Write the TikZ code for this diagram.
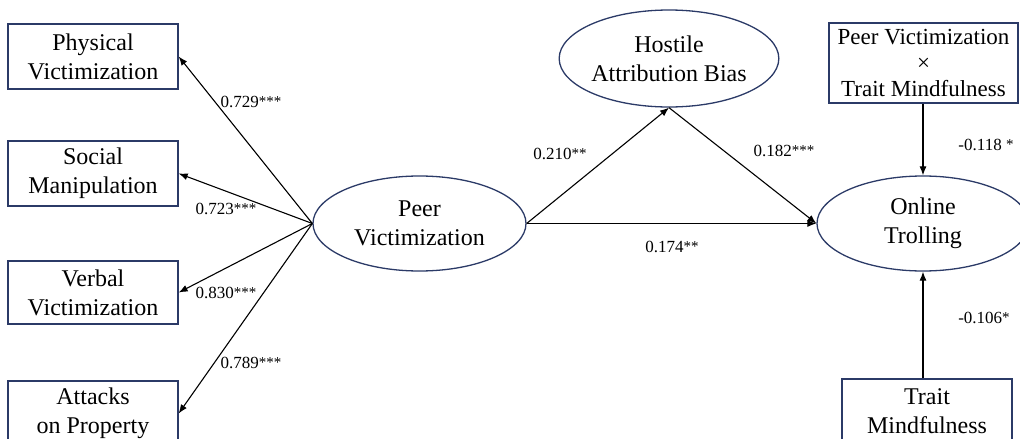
\documentclass[tikz,border=0pt]{standalone}
\usepackage{fontspec}
\setmainfont{Liberation Serif}
\usetikzlibrary{arrows.meta,shapes.geometric}
\definecolor{navy}{HTML}{2B3A67}
\newcommand{\stars}[1]{\raisebox{1pt}{\fontsize{15}{15}\selectfont #1}}
\begin{document}
\begin{tikzpicture}[x=1pt,y=-1pt,
  box/.style={draw=navy,line width=1.3pt,rectangle,inner sep=0pt,align=center,font=\fontsize{24}{29}\selectfont},
  lat/.style={draw=navy,line width=1.3pt,ellipse,inner sep=0pt,align=center,font=\fontsize{24}{29}\selectfont},
  arr/.style={line width=1.1pt,-{Latex[length=9pt,width=7pt]}},
  lbl/.style={font=\fontsize{17}{20}\selectfont,inner sep=0pt}]
\useasboundingbox (0,0) rectangle (1020,439);
\begin{scope}
\clip (0,0) rectangle (1020,439);
% indicator boxes
\node[box,minimum width=170pt,minimum height=65pt] (phys) at (93,56.5) {Physical\\Victimization};
\node[box,minimum width=170pt,minimum height=65pt] (soc) at (93,173.5) {Social\\Manipulation};
\node[box,minimum width=170pt,minimum height=63pt] (verb) at (93,292.5) {Verbal\\Victimization};
\node[box,minimum width=170pt,minimum height=65pt] (att) at (93,413.5) {Attacks\\on Property};
% latent variables
\node[lat,minimum width=213pt,minimum height=95pt] (pv) at (419.5,223.5) {Peer\\Victimization};
\node[lat,minimum width=212pt,minimum height=97pt] (hab) at (669,58.5) {Hostile\\Attribution Bias};
\node[lat,minimum width=212pt,minimum height=95pt] (ot) at (923,223.5) {Online\\Trolling};
% moderator boxes
\node[box,minimum width=189pt,minimum height=80pt,font=\fontsize{23}{26}\selectfont] (int) at (923.5,63) {Peer Victimization\\×\\Trait Mindfulness};
\node[box,minimum width=170pt,minimum height=65pt] (tm) at (927,411.5) {Trait\\Mindfulness};
\end{scope}
% connectors
\draw[arr] (pv.west) -- (phys.east);
\draw[arr] (pv.west) -- (soc.east);
\draw[arr] (pv.west) -- (verb.east);
\draw[arr] (pv.west) -- (att.east);
\draw[arr] (pv.east) -- (hab.south);
\draw[arr] (hab.south) -- (ot.west);
\draw[arr] (pv.east) -- (ot.west);
\draw[arr] (int.south -| ot.north) -- (ot.north);
\draw[arr] (tm.north -| ot.south) -- (ot.south);
% labels
\node[lbl] (l1) at (251,102) {0.729\stars{***}};
\node[lbl] (l2) at (226,209) {0.723\stars{***}};
\node[lbl] (l3) at (226,293) {0.830\stars{***}};
\node[lbl] (l4) at (251,363) {0.789\stars{***}};
\node[lbl] (l5) at (560,154) {0.210\stars{**}};
\node[lbl] (l6) at (672,247) {0.174\stars{**}};
\node[lbl] (l7) at (784,151) {0.182\stars{***}};
\node[lbl] (l8) at (986,145) {-0.118 \stars{*}};
\node[lbl] (l9) at (984,318) {-0.106\stars{*}};
\end{tikzpicture}
\end{document}
